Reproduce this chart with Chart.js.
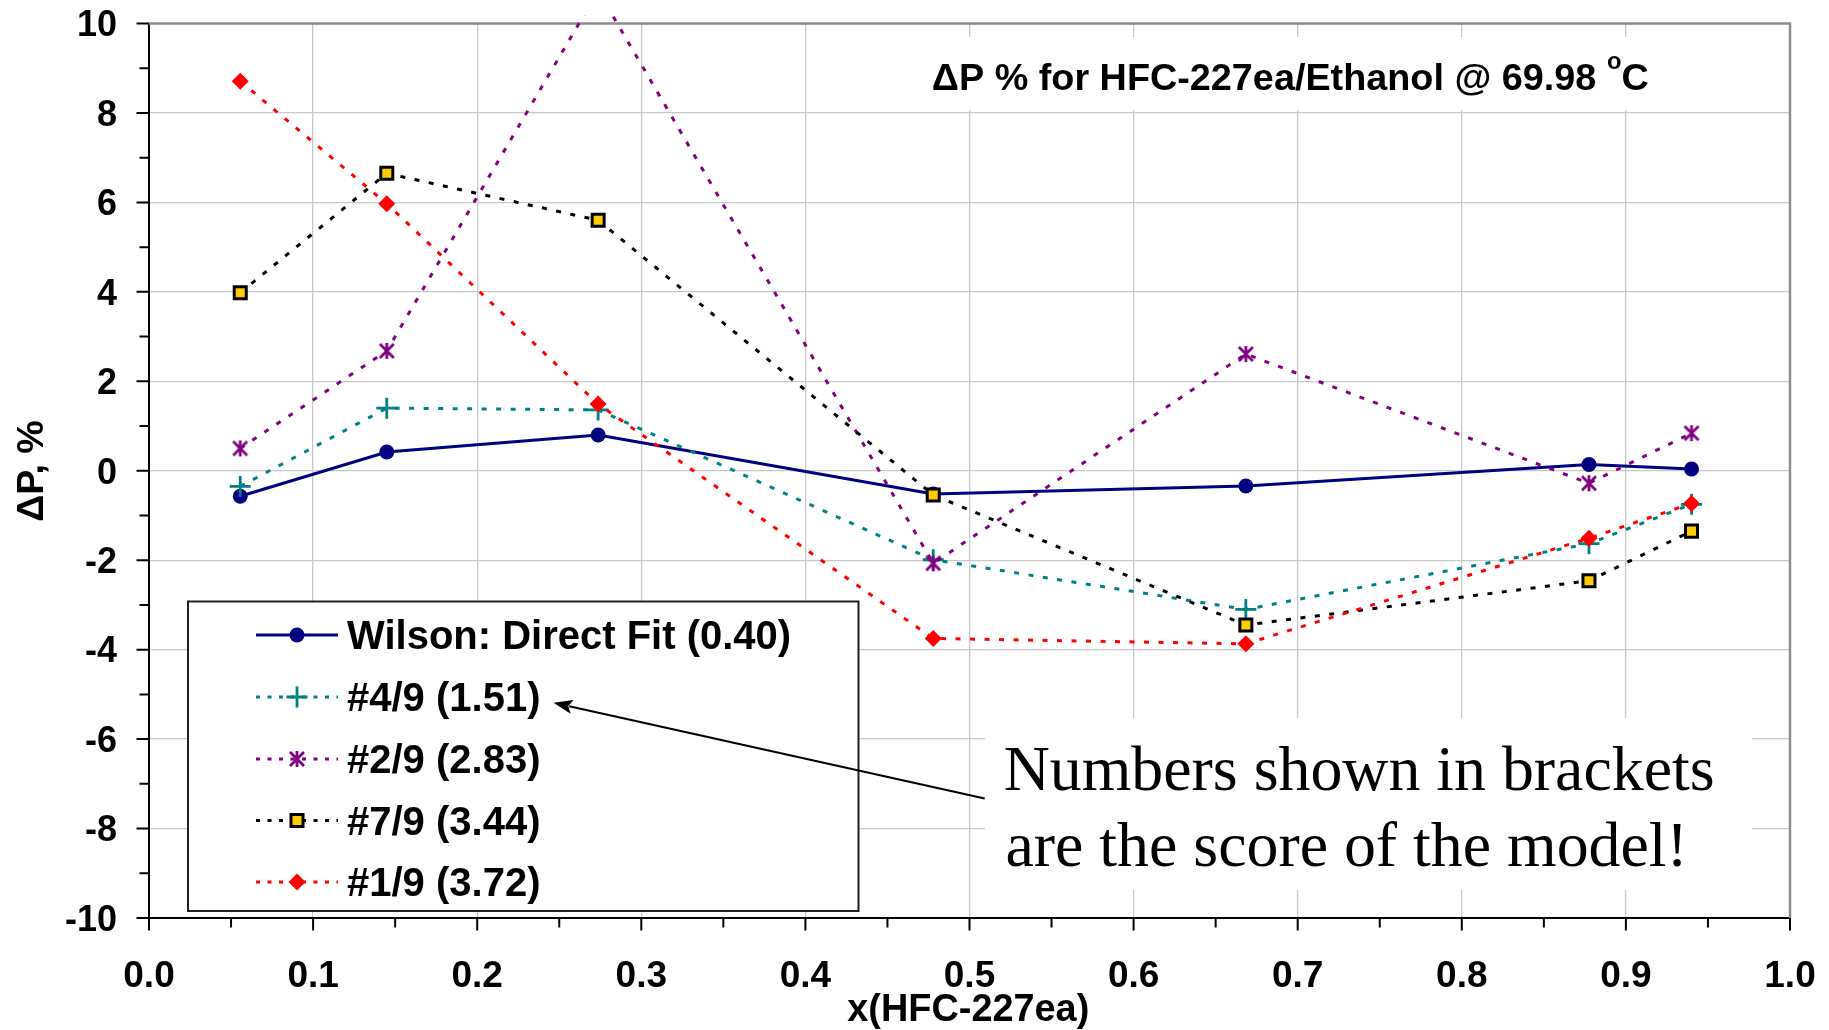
<!DOCTYPE html>
<html>
<head>
<meta charset="utf-8">
<title>ΔP % for HFC-227ea/Ethanol</title>
<script src="https://cdn.jsdelivr.net/npm/chart.js@4.4.1/dist/chart.umd.min.js"></script>
<style>
  html, body { margin: 0; padding: 0; background: #ffffff; }
  #wrap { width: 1829px; height: 1030px; }
</style>
</head>
<body>
<div id="wrap"><canvas id="chart" width="1829" height="1030"></canvas></div>
<script>
// Liquid mole fraction of HFC-227ea at each measured point
const xValues = [0.0556, 0.1449, 0.2737, 0.4779, 0.6684, 0.8775, 0.9400];

// Pressure deviations, % (one array per model)
const wilsonDirect = [-0.57, 0.42, 0.80, -0.52, -0.34, 0.14, 0.04];
const model4of9 = [-0.35, 1.40, 1.36, -1.99, -3.10, -1.63, -0.75];
const model2of9 = [0.50, 2.68, 10.73, -2.07, 2.61, -0.28, 0.84];
const model7of9 = [3.98, 6.65, 5.60, -0.54, -3.45, -2.46, -1.35];
const model1of9 = [8.71, 5.97, 1.49, -3.75, -3.87, -1.51, -0.73];

const seriesNames = ['Wilson: Direct Fit (0.40)', '#4/9 (1.51)', '#2/9 (2.83)', '#7/9 (3.44)', '#1/9 (3.72)'];

const xTickLabels = ['0.0', '0.1', '0.2', '0.3', '0.4', '0.5', '0.6', '0.7', '0.8', '0.9', '1.0'];
const yTickLabels = ['-10', '-8', '-6', '-4', '-2', '0', '2', '4', '6', '8', '10'];

const titleMain = 'ΔP % for HFC-227ea/Ethanol @ 69.98 ';
const titleDegree = 'o';
const titleUnit = 'C';
const xTitle = 'x(HFC-227ea)';
const yTitle = 'ΔP, %';
const noteLines = ['Numbers shown in brackets', 'are the score of the model!'];

const SANS = '"Liberation Sans", Arial, Helvetica, sans-serif';
const SERIF = '"Liberation Serif", "Times New Roman", serif';

function toPoints(values) {
  return xValues.map((x, i) => ({ x: x, y: values[i] }));
}

// Asterisk marker: an X crossed by a vertical bar
function makeAsterisk(color) {
  const c = document.createElement('canvas');
  c.width = 22; c.height = 22;
  const g = c.getContext('2d');
  g.strokeStyle = color;
  g.lineWidth = 2.8;
  g.lineCap = 'butt';
  g.beginPath();
  g.moveTo(4, 4); g.lineTo(18, 18);
  g.moveTo(18, 4); g.lineTo(4, 18);
  g.moveTo(11, 3); g.lineTo(11, 19);
  g.stroke();
  return c;
}
const asterisk = makeAsterisk('#800080');

const dash = [5, 9.5];
const lineClip = { left: 4, top: 8, right: 4, bottom: 4 };

const datasets = [
  {
    label: seriesNames[0], data: toPoints(wilsonDirect), order: 5,
    borderColor: '#000080', borderWidth: 3,
    pointStyle: 'circle', pointRadius: 7.5, pointBackgroundColor: '#000080',
    pointBorderColor: '#000080', pointBorderWidth: 0
  },
  {
    label: seriesNames[1], data: toPoints(model4of9), order: 4,
    borderColor: '#008080', borderWidth: 3, borderDash: dash,
    pointStyle: 'cross', pointRadius: 10.5, pointBorderColor: '#008080',
    pointBackgroundColor: '#008080', pointBorderWidth: 2.8
  },
  {
    label: seriesNames[2], data: toPoints(model2of9), order: 3,
    borderColor: '#800080', borderWidth: 3, borderDash: dash,
    pointStyle: asterisk, pointRadius: 8, pointBorderColor: '#800080',
    pointBackgroundColor: '#800080', pointBorderWidth: 0
  },
  {
    label: seriesNames[3], data: toPoints(model7of9), order: 2,
    borderColor: '#000000', borderWidth: 3, borderDash: dash,
    pointStyle: 'rect', pointRadius: 8.5, pointBackgroundColor: '#FFCC00',
    pointBorderColor: '#000000', pointBorderWidth: 3
  },
  {
    label: seriesNames[4], data: toPoints(model1of9), order: 1,
    borderColor: '#FF0000', borderWidth: 3, borderDash: dash,
    pointStyle: 'rectRot', pointRadius: 8.5, pointBackgroundColor: '#FF0000',
    pointBorderColor: '#FF0000', pointBorderWidth: 0
  }
];
datasets.forEach(d => { d.tension = 0; d.fill = false; d.clip = lineClip; d.borderCapStyle = 'butt'; });

// Draws text; y is the baseline. With opt.width the font size is chosen to fill that width.
function drawText(ctx, str, x, y, opt) {
  ctx.save();
  const weight = opt.weight || 'bold';
  const family = opt.family || SANS;
  let size = opt.size;
  if (opt.width) {
    ctx.font = weight + ' 100px ' + family;
    size = 100 * opt.width / ctx.measureText(str).width;
  }
  ctx.font = weight + ' ' + size + 'px ' + family;
  ctx.textBaseline = 'alphabetic';
  ctx.textAlign = opt.align || 'left';
  ctx.fillStyle = opt.color || '#000000';
  ctx.fillText(str, x, y);
  ctx.restore();
  return size;
}

function drawMarker(ctx, ds, x, y) {
  const r = ds.pointRadius;
  const style = ds.pointStyle;
  ctx.save();
  ctx.fillStyle = ds.pointBackgroundColor;
  ctx.strokeStyle = ds.pointBorderColor;
  ctx.lineWidth = ds.pointBorderWidth;
  ctx.setLineDash([]);
  ctx.beginPath();
  if (style === 'circle') {
    ctx.arc(x, y, r, 0, Math.PI * 2);
    ctx.fill();
  } else if (style === 'cross') {
    ctx.moveTo(x - r, y); ctx.lineTo(x + r, y);
    ctx.moveTo(x, y - r); ctx.lineTo(x, y + r);
    ctx.stroke();
  } else if (style === 'rect') {
    const s = r * Math.SQRT1_2;
    ctx.rect(x - s, y - s, 2 * s, 2 * s);
    ctx.fill();
    ctx.stroke();
  } else if (style === 'rectRot') {
    ctx.moveTo(x, y - r); ctx.lineTo(x + r, y); ctx.lineTo(x, y + r); ctx.lineTo(x - r, y);
    ctx.closePath();
    ctx.fill();
  } else if (style instanceof HTMLCanvasElement) {
    ctx.drawImage(style, x - style.width / 2, y - style.height / 2);
  }
  ctx.restore();
}

const decorations = {
  id: 'decorations',
  beforeDatasetsDraw(chart) {
    const ctx = chart.ctx;
    const a = chart.chartArea;
    const xs = chart.scales.x, ys = chart.scales.y;
    ctx.save();
    // white panels behind the title and the note
    ctx.fillStyle = '#ffffff';
    ctx.fillRect(910, 37, a.right - 912, 73);
    ctx.fillRect(985, 718, 767, 172);
    // top and right frame
    ctx.strokeStyle = '#8c8c8c';
    ctx.lineWidth = 2.5;
    ctx.beginPath();
    ctx.moveTo(a.left, a.top); ctx.lineTo(a.right, a.top); ctx.lineTo(a.right, a.bottom);
    ctx.stroke();
    // tick marks, majors and minors
    ctx.strokeStyle = '#000000';
    ctx.lineWidth = 2;
    ctx.beginPath();
    for (let v = -10; v <= 10; v++) {
      const py = ys.getPixelForValue(v);
      const len = (v % 2 === 0) ? 12.5 : 9.5;
      ctx.moveTo(a.left - len, py); ctx.lineTo(a.left, py);
    }
    for (let i = 0; i <= 20; i++) {
      const px = xs.getPixelForValue(i * 0.05);
      const len = (i % 2 === 0) ? 12.5 : 9.5;
      ctx.moveTo(px, a.bottom); ctx.lineTo(px, a.bottom + len);
    }
    ctx.stroke();
    ctx.restore();
  },
  afterDatasetsDraw(chart) {
    const ctx = chart.ctx;
    ctx.save();
    // legend panel
    ctx.fillStyle = '#ffffff';
    ctx.fillRect(188, 601.5, 670.5, 309.5);
    ctx.strokeStyle = '#202020';
    ctx.lineWidth = 2;
    ctx.strokeRect(188, 601.5, 670.5, 309.5);
    const rows = [635, 697, 759, 820.5, 882];
    datasets.forEach((ds, i) => {
      const y = rows[i];
      ctx.save();
      ctx.strokeStyle = ds.borderColor;
      ctx.lineWidth = ds.borderWidth;
      ctx.setLineDash(ds.borderDash ? [4, 7.5] : []);
      ctx.beginPath();
      ctx.moveTo(256, y); ctx.lineTo(338, y);
      ctx.stroke();
      ctx.restore();
      drawMarker(ctx, ds, 297, y);
      drawText(ctx, ds.label, 347, y + 14.3, { size: 40 });
    });
    ctx.restore();
  },
  afterDraw(chart) {
    const ctx = chart.ctx;
    const a = chart.chartArea;
    const xs = chart.scales.x, ys = chart.scales.y;

    // tick labels
    xTickLabels.forEach(t => {
      const px = xs.getPixelForValue(parseFloat(t));
      drawText(ctx, t, px, a.bottom + 69.3, { size: 37, align: 'center' });
    });
    yTickLabels.forEach(t => {
      const py = ys.getPixelForValue(parseFloat(t));
      drawText(ctx, t, a.left - 32, py + 12.8, { size: 36, align: 'right' });
    });

    // axis titles
    drawText(ctx, xTitle, 968.3, 1020.5, { width: 242, align: 'center' });
    ctx.save();
    ctx.translate(42.5, 471);
    ctx.rotate(-Math.PI / 2);
    drawText(ctx, yTitle, 0, 0, { width: 101.7, align: 'center' });
    ctx.restore();

    // chart title with superscript degree sign
    ctx.save();
    ctx.font = 'bold 100px ' + SANS;
    const m1 = ctx.measureText(titleMain).width;
    const mu = ctx.measureText(titleUnit).width;
    ctx.font = 'bold 63px ' + SANS;
    const m2 = ctx.measureText(titleDegree).width;
    const S = 100 * 717 / (m1 + m2 + mu);
    const w1 = m1 * S / 100, w2 = m2 * S / 100;
    ctx.fillStyle = '#000000';
    ctx.textBaseline = 'alphabetic';
    ctx.textAlign = 'left';
    ctx.font = 'bold ' + S + 'px ' + SANS;
    ctx.fillText(titleMain, 931.8, 89.6);
    ctx.fillText(titleUnit, 931.8 + w1 + w2, 89.6);
    ctx.font = 'bold ' + (S * 0.63) + 'px ' + SANS;
    ctx.fillText(titleDegree, 931.8 + w1, 89.6 - S * 0.55);
    ctx.restore();

    // note and its arrow
    const ns = drawText(ctx, noteLines[0], 1003.7, 789.6, { weight: 'normal', family: SERIF, width: 711 });
    drawText(ctx, noteLines[1], 1005.5, 866.2, { size: ns, weight: 'normal', family: SERIF });

    const sx0 = 984.7, sy0 = 798.5, tx = 553.6, ty = 702.8;
    const dx = tx - sx0, dy = ty - sy0;
    const L = Math.hypot(dx, dy);
    const ux = dx / L, uy = dy / L;
    const headLen = 19, headHalf = 7;
    const bx = tx - ux * headLen, by = ty - uy * headLen;
    ctx.save();
    ctx.strokeStyle = '#000000';
    ctx.fillStyle = '#000000';
    ctx.lineWidth = 2;
    ctx.beginPath();
    ctx.moveTo(sx0, sy0); ctx.lineTo(bx + ux * 3, by + uy * 3);
    ctx.stroke();
    ctx.beginPath();
    ctx.moveTo(tx, ty);
    ctx.lineTo(bx - uy * headHalf, by + ux * headHalf);
    ctx.lineTo(bx + ux * 4, by + uy * 4);
    ctx.lineTo(bx + uy * headHalf, by - ux * headHalf);
    ctx.closePath();
    ctx.fill();
    ctx.restore();
  }
};

new Chart(document.getElementById('chart'), {
  type: 'line',
  data: { datasets: datasets },
  options: {
    responsive: false,
    animation: false,
    events: [],
    layout: { padding: { left: 0, right: 39, top: 23.5, bottom: 0 } },
    plugins: {
      legend: { display: false },
      tooltip: { enabled: false },
      title: { display: false }
    },
    scales: {
      x: {
        type: 'linear', min: 0, max: 1,
        ticks: { stepSize: 0.1, display: false },
        grid: { color: '#c8c8c8', lineWidth: 1.3, drawTicks: false },
        border: { color: '#000000', width: 2 },
        afterFit(scale) { scale.height = 112; }
      },
      y: {
        type: 'linear', min: -10, max: 10,
        ticks: { stepSize: 2, display: false },
        grid: { color: '#c8c8c8', lineWidth: 1.3, drawTicks: false },
        border: { color: '#000000', width: 2 },
        afterFit(scale) { scale.width = 149; }
      }
    }
  },
  plugins: [decorations]
});
</script>
</body>
</html>
